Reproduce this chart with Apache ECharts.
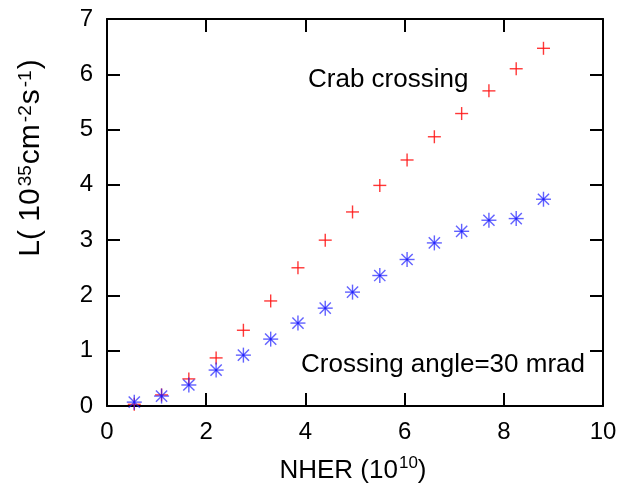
<!DOCTYPE html>
<html>
<head>
<meta charset="utf-8">
<script src="https://cdn.jsdelivr.net/npm/echarts@6/dist/echarts.min.js"></script>
<style>html,body{margin:0;padding:0;background:#fff;}#c{width:636px;height:486px;}</style>
</head>
<body>
<div id="c"></div>
<script>
const nher = [0.55, 1.1, 1.65, 2.2, 2.75, 3.3, 3.85, 4.4, 4.95, 5.5, 6.05, 6.6, 7.15, 7.7, 8.25, 8.8];
const crabCrossing = [0.03, 0.20, 0.49, 0.87, 1.37, 1.90, 2.50, 3.00, 3.51, 3.99, 4.45, 4.87, 5.29, 5.70, 6.10, 6.47];
const crossingAngle30 = [0.07, 0.18, 0.38, 0.65, 0.92, 1.21, 1.50, 1.77, 2.06, 2.36, 2.65, 2.95, 3.16, 3.36, 3.39, 3.74];
const xTicks = [0, 2, 4, 6, 8, 10];
const yTicks = [0, 1, 2, 3, 4, 5, 6, 7];

const FONT = '"Liberation Sans", Arial, Helvetica, sans-serif';
const chart = echarts.init(document.getElementById('c'), null, {renderer: 'canvas'});

function pairs(xs, ys) { return xs.map((x, i) => [x, ys[i]]); }

function markerRenderer(kind, color) {
  return function (params, api) {
    const p = api.coord([api.value(0), api.value(1)]);
    const h = kind === 'plus' ? 6.5 : 7.5;
    const d = 5.6;
    const segs = [[-h, 0, h, 0], [0, -h, 0, h]];
    if (kind === 'star') { segs.push([-d, -d, d, d], [-d, d, d, -d]); }
    return {
      type: 'group',
      children: segs.map(s => ({
        type: 'line',
        shape: {x1: p[0] + s[0], y1: p[1] + s[1], x2: p[0] + s[2], y2: p[1] + s[3]},
        style: {stroke: color, lineWidth: 1.4}
      }))
    };
  };
}

const axisLineStyle = {show: true, onZero: false, lineStyle: {color: '#000', width: 2}};
const tickStyle = {show: true, inside: true, length: 13, lineStyle: {color: '#000', width: 2}};

chart.setOption({
  animation: false,
  backgroundColor: '#fff',
  grid: {left: 107, right: 33, top: 19, bottom: 80, containLabel: false},
  xAxis: [
    {type: 'value', position: 'bottom', min: xTicks[0], max: xTicks[xTicks.length - 1], interval: 2,
     axisLine: axisLineStyle, axisTick: tickStyle, splitLine: {show: false},
     axisLabel: {fontSize: 24, color: '#000', fontFamily: FONT, margin: 14}},
    {type: 'value', position: 'top', min: xTicks[0], max: xTicks[xTicks.length - 1], interval: 2,
     axisLine: axisLineStyle, axisTick: tickStyle, splitLine: {show: false}, axisLabel: {show: false}}
  ],
  yAxis: [
    {type: 'value', position: 'left', min: yTicks[0], max: yTicks[yTicks.length - 1], interval: 1,
     axisLine: axisLineStyle, axisTick: tickStyle, splitLine: {show: false},
     axisLabel: {fontSize: 24, color: '#000', fontFamily: FONT, margin: 14}},
    {type: 'value', position: 'right', min: yTicks[0], max: yTicks[yTicks.length - 1], interval: 1,
     axisLine: axisLineStyle, axisTick: tickStyle, splitLine: {show: false}, axisLabel: {show: false}}
  ],
  series: [
    {type: 'custom', name: 'Crab crossing', xAxisIndex: 0, yAxisIndex: 0,
     data: pairs(nher, crabCrossing), encode: {x: 0, y: 1},
     renderItem: markerRenderer('plus', 'rgba(255,20,20,0.85)')},
    {type: 'custom', name: 'Crossing angle=30 mrad', xAxisIndex: 0, yAxisIndex: 0,
     data: pairs(nher, crossingAngle30), encode: {x: 0, y: 1},
     renderItem: markerRenderer('star', 'rgba(30,30,255,0.7)')}
  ],
  graphic: [
    {type: 'text', left: 308, top: 67, style: {text: 'Crab crossing', fontSize: 26, fontFamily: FONT, fill: '#000'}},
    {type: 'text', left: 301, top: 352, style: {text: 'Crossing angle=30 mrad', fontSize: 26, fontFamily: FONT, fill: '#000'}},
    {type: 'text', x: 30, y: 158, rotation: Math.PI / 2,
     style: {
       text: '{m|L( 10}{s|35}{m|cm}{s|-2}{m|s}{s|-1}{m|)}',
       align: 'center', verticalAlign: 'middle', fill: '#000',
       rich: {
         m: {fontSize: 30, fontFamily: FONT, lineHeight: 32, verticalAlign: 'bottom'},
         s: {fontSize: 19, fontFamily: FONT, lineHeight: 32, verticalAlign: 'top', padding: [2, 1, 0, 2]}
       }
     }},
    {type: 'text', x: 353, y: 469,
     style: {
       text: '{m|NHER (10}{s|10}{m|)}',
       align: 'center', verticalAlign: 'middle', fill: '#000',
       rich: {
         m: {fontSize: 26, fontFamily: FONT, lineHeight: 30, verticalAlign: 'bottom'},
         s: {fontSize: 17, fontFamily: FONT, lineHeight: 30, verticalAlign: 'top', padding: [1, 0, 0, 1]}
       }
     }}
  ]
});
</script>
</body>
</html>
